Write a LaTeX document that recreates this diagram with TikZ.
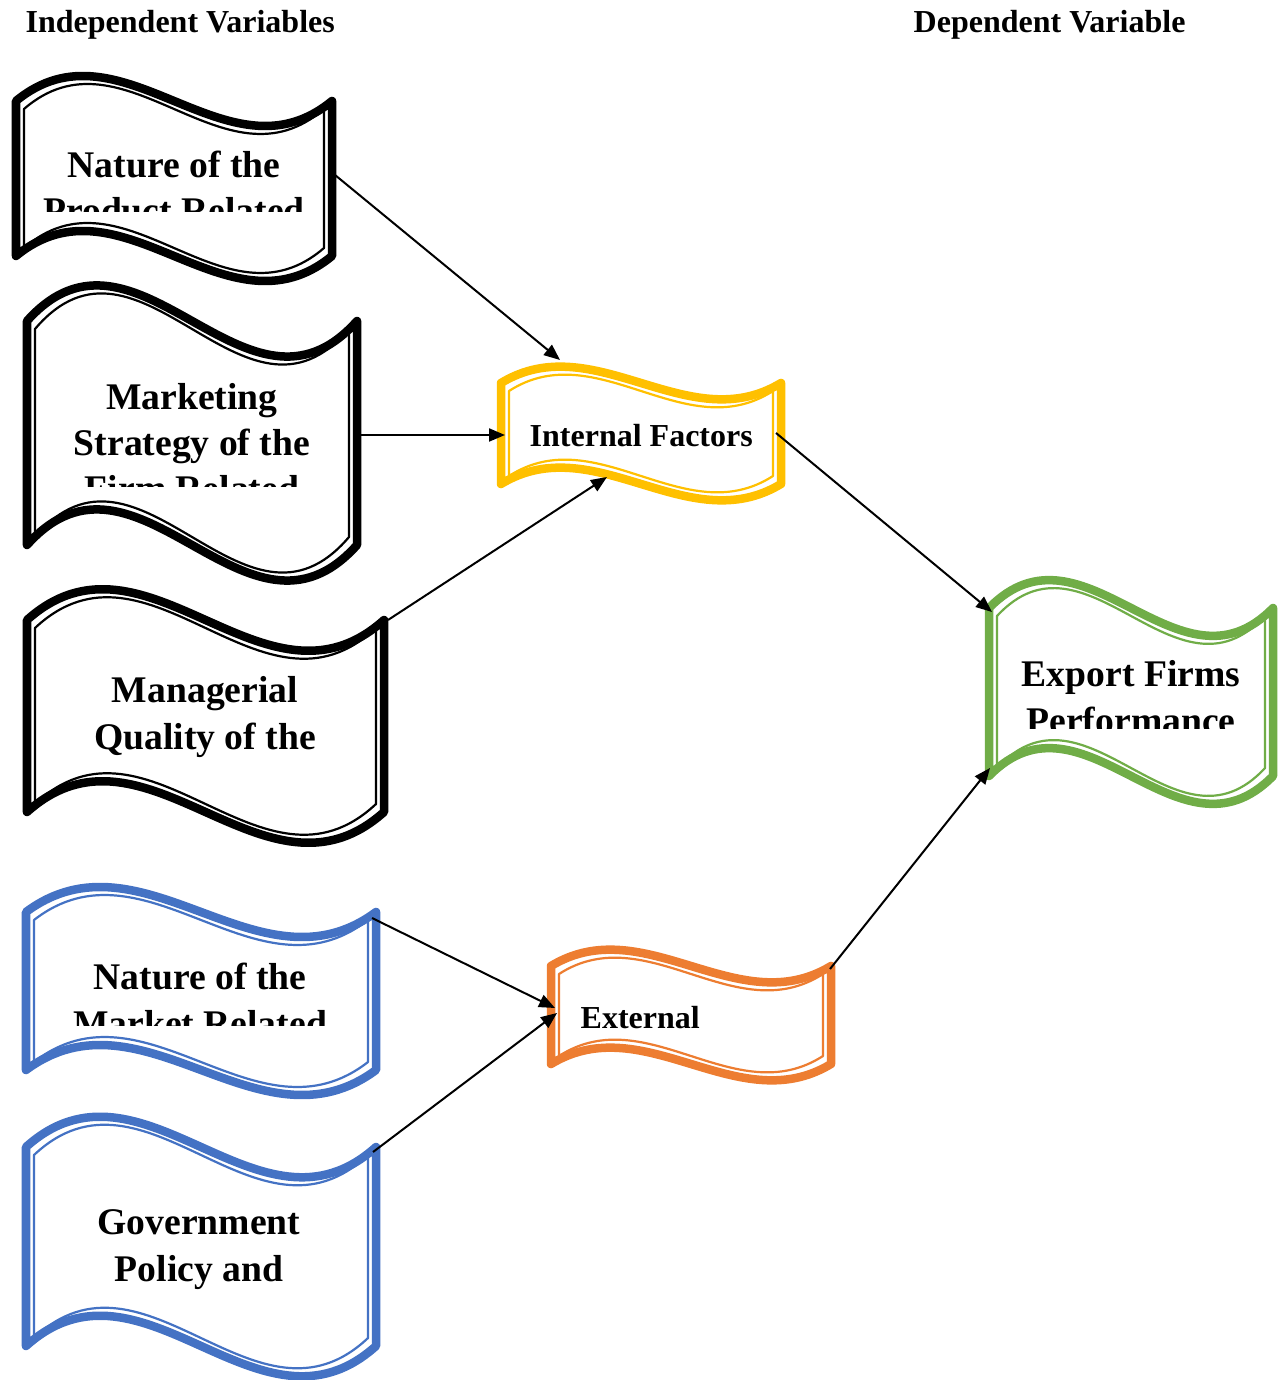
\documentclass[tikz,border=0pt]{standalone}
\usepackage{fontspec}
\setmainfont{Liberation Serif}
\usepackage{tikz}
\usetikzlibrary{arrows.meta}
\definecolor{wave_gold}{HTML}{FFC000}
\definecolor{wave_orange}{HTML}{ED7D31}
\definecolor{wave_green}{HTML}{70AD47}
\definecolor{wave_blue}{HTML}{4472C4}
\tikzset{
every picture/.style={line join=round},
%%%%%%%%%%  Wave styles
wave_outer/.style={line width=0.085cm, fill=white},
wave_inner/.style={line width=0.022cm},
%%%%%%%%%%  Text styles
head_text/.style={font=\bfseries\fontsize{9.1}{11}\selectfont,
                  anchor=base west, inner sep=0pt},
%% anchor base sits on the last line
big_text/.style={font=\bfseries\fontsize{10.7}{13.1}\selectfont,
                 align=center, anchor=base, inner sep=0pt},
small_text/.style={font=\bfseries\fontsize{9.1}{11}\selectfont,
                   anchor=base west, inner sep=0pt},
%%%%%%%%%%  Connectors
link/.style={line width=0.02cm, -{Triangle[length=0.16cm, width=0.13cm]}}
}
%% wave banner: colour, left x, right x, top corner y, bottom corner y, amplitude
%% outer thick line, then thin line 8 units inside
\newcommand{\wave}[6]{%
\draw[wave_outer, draw=#1] (#2,#4)
	.. controls ({#2+(#3-#2)/3},{#4-3.33*#6}) and ({#2+2*(#3-#2)/3},{#4+3.33*#6}) .. (#3,#4)
	-- (#3,#5)
	.. controls ({#2+2*(#3-#2)/3},{#5+3.33*#6}) and ({#2+(#3-#2)/3},{#5-3.33*#6}) .. (#2,#5)
	-- cycle;
\draw[wave_inner, draw=#1] ({#2+8},{#4+8})
	.. controls ({#2+8+(#3-#2-16)/3},{#4+8-3.33*#6}) and ({#2+8+2*(#3-#2-16)/3},{#4+8+3.33*#6}) .. ({#3-8},{#4+8})
	-- ({#3-8},{#5-8})
	.. controls ({#2+8+2*(#3-#2-16)/3},{#5-8+3.33*#6}) and ({#2+8+(#3-#2-16)/3},{#5-8-3.33*#6}) .. ({#2+8},{#5-8})
	-- cycle;
}

\begin{document}
\begin{tikzpicture}[x=0.01cm, y=-0.01cm]
\useasboundingbox (0,0) rectangle (1284,1380);
%% headings
\node[head_text] (indep) at (25,33) {Independent Variables};
\node[head_text] (dep) at (913,33) {Dependent Variable};
%%%%%%%%%%%%%%%%%%%%%%%%%%%%%%%%%%%%%%%%%%%%%%
%% black banners
\wave{black}{16}{332}{101}{256}{26}
\begin{scope}
\clip (16,60) rectangle (332,212);
\node[big_text] (product) at (174,224) {Nature of the\\Product Related};
\end{scope}
\wave{black}{27}{357}{321}{545}{37}
\begin{scope}
\clip (27,280) rectangle (357,487);
\node[big_text] (strategy) at (192,502) {Marketing\\Strategy of the\\Firm Related};
\end{scope}
\wave{black}{27}{384}{620}{812}{32}
\node[big_text] (quality) at (205,749) {Managerial\\Quality of the};
%%%%%%%%%%%%%%%%%%%%%%%%%%%%%%%%%%%%%%%%%%%%%%
%% blue banners
\wave{wave_blue}{26}{376}{912}{1070}{26}
\begin{scope}
\clip (26,880) rectangle (376,1025);
\node[big_text] (market) at (200,1036) {Nature of the\\Market Related};
\end{scope}
\wave{wave_blue}{26}{376}{1147}{1346}{31.5}
\node[big_text] (policy) at (199,1281) {Government\\Policy and};
%%%%%%%%%%%%%%%%%%%%%%%%%%%%%%%%%%%%%%%%%%%%%%
%% middle banners
\wave{wave_gold}{501}{781}{383}{484}{17}
\node[small_text] (internal) at (529,447) {Internal Factors};
\wave{wave_orange}{551}{831}{966}{1064}{17}
\node[small_text] (external) at (580,1028) {External};
%%%%%%%%%%%%%%%%%%%%%%%%%%%%%%%%%%%%%%%%%%%%%%
%% dependent banner
\wave{wave_green}{989}{1273}{608}{776}{29}
\begin{scope}
\clip (989,570) rectangle (1273,728);
\node[big_text] (performance) at (1131,733) {Export Firms\\Performance};
\end{scope}
%%%%%%%%%%%%%%%%%%%%%%%%%%%%%%%%%%%%%%%%%%%%%%
%% connection points
\coordinate (product-out) at (335,175);
\coordinate (strategy-out) at (360,435);
\coordinate (quality-out) at (388,620);
\coordinate (market-out) at (372,918);
\coordinate (policy-out) at (373,1152);
\coordinate (internal-top) at (560,360);
\coordinate (internal-left) at (505,435);
\coordinate (internal-bot) at (607,477);
\coordinate (internal-out) at (776,433);
\coordinate (external-a) at (555,1008);
\coordinate (external-b) at (557,1013);
\coordinate (external-out) at (830,969);
\coordinate (performance-top) at (992,612);
\coordinate (performance-bot) at (990,768);
%% arrows
\draw[link] (product-out) -- (internal-top);
\draw[link] (strategy-out) -- (internal-left);
\draw[link] (quality-out) -- (internal-bot);
\draw[link] (market-out) -- (external-a);
\draw[link] (policy-out) -- (external-b);
\draw[link] (internal-out) -- (performance-top);
\draw[link] (external-out) -- (performance-bot);
\end{tikzpicture}
\end{document}
